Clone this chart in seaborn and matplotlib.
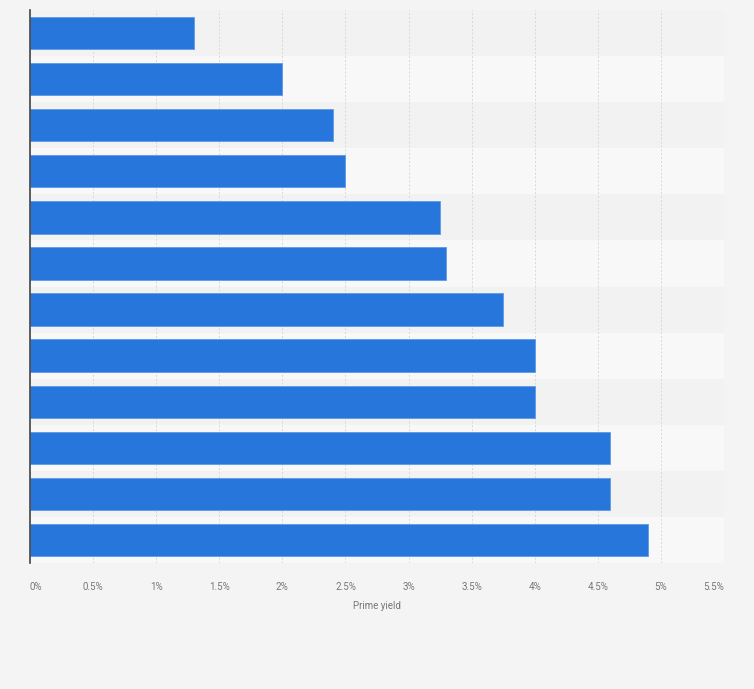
import matplotlib
matplotlib.use("Agg")
import matplotlib.pyplot as plt
import seaborn as sns
import pandas as pd
import numpy as np

categories = [f"Market {i}" for i in range(1, 13)]
prime_yield = [1.3, 2.0, 2.4, 2.5, 3.25, 3.3, 3.75, 4.0, 4.0, 4.6, 4.6, 4.9]
x_ticks = [0, 0.5, 1, 1.5, 2, 2.5, 3, 3.5, 4, 4.5, 5, 5.5]
x_tick_labels = ["0%", "0.5%", "1%", "1.5%", "2%", "2.5%", "3%", "3.5%", "4%", "4.5%", "5%", "5.5%"]

df = pd.DataFrame({"category": categories, "value": prime_yield})

sns.set_theme(style="white")
plt.rcParams['font.family'] = ['Roboto', 'DejaVu Sans']

fig = plt.figure(figsize=(7.54, 6.89), dpi=100)
fig.patch.set_facecolor("#f4f4f4")
ax = fig.add_axes([30/754, 1-563/689, 694/754, 553/689])
ax.set_facecolor("#f8f8f8")

n = len(categories)
for i in range(n):
    if i % 2 == 0:
        ax.axhspan(i-0.5, i+0.5, facecolor="#f2f2f2", edgecolor="none", zorder=0, lw=0)

sns.barplot(data=df, x="value", y="category", orient="h", color="#2776dc",
            saturation=1, width=0.7, ax=ax, zorder=3)
for cont in ax.containers:
    for p in cont:
        p.set_edgecolor("#5e9ae6")
        p.set_linewidth(0.6)

ax.set_xlim(0, 5.5)
ax.set_ylim(n-0.5, -0.5)
ax.set_xticks(x_ticks)
ax.set_xticklabels(x_tick_labels, color="#777777", fontsize=7)
labels = ax.get_xticklabels()
labels[0].set_horizontalalignment("left")
labels[-1].set_horizontalalignment("right")
ax.tick_params(axis="x", length=0, pad=14)
ax.set_yticks([])
ax.set_ylabel("")
ax.set_xlabel("Prime yield", color="#777777", fontsize=7, labelpad=6)
ax.grid(axis="x", color="#d8d8d8", linestyle=(0, (2, 2)), linewidth=0.7, zorder=1)
ax.set_axisbelow(True)
for s in ["top", "right", "bottom"]:
    ax.spines[s].set_visible(False)
ax.spines["left"].set_color("#444444")
ax.spines["left"].set_linewidth(1.2)
ax.spines["left"].set_zorder(5)

fig.savefig("out.png", dpi=100, facecolor=fig.get_facecolor())
